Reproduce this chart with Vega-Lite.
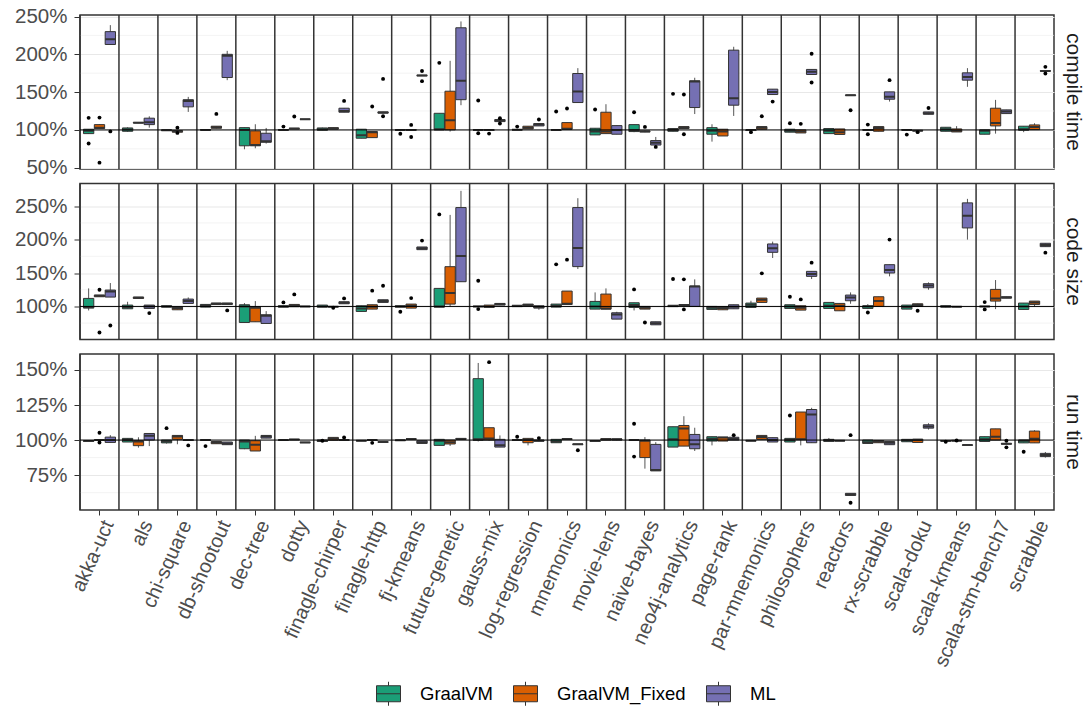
{
"$schema": "https://vega.github.io/schema/vega-lite/v6.json",
"background": "white",
"padding": {"left": 13, "top": 5, "right": 0, "bottom": 0},
"bounds": "flush",
"spacing": 14.5,
"config": {
 "font": "Liberation Sans",
 "view": {"stroke": "#333333", "strokeWidth": 1.5},
 "scale": {"bandPaddingInner": 0, "bandPaddingOuter": 0, "barBandPaddingInner": 0, "rectBandPaddingInner": 0, "bandWithNestedOffsetPaddingInner": 0, "bandWithNestedOffsetPaddingOuter": 0, "offsetBandPaddingInner": 0.05, "offsetBandPaddingOuter": 0.32},
 "axis": {"labelOverlap": false},
 "axisQuantitative": {"labelOverlap": false},
 "axisY": {"domain": false, "tickSize": 6, "tickColor": "#333333", "labelFontSize": 20.5, "labelColor": "#4d4d4d", "labelPadding": 7, "gridColor": "#e8e8e8", "gridWidth": 1.2, "labelOverlap": false},
 "legend": {"orient": "none", "legendX": 296, "legendY": 666, "direction": "horizontal", "symbolType": "M-1,-0.667H1V0.667H-1Z M-1,0H1 M0,-0.667V-1 M0,0.667V1", "symbolSize": 576, "symbolStrokeColor": "#333333", "symbolStrokeWidth": 1, "labelFontSize": 18.5, "labelColor": "#000000", "labelOffset": 19, "columnPadding": 18}
},
"datasets": {
 "bench": [{"b":"akka-uct"},{"b":"als"},{"b":"chi-square"},{"b":"db-shootout"},{"b":"dec-tree"},{"b":"dotty"},{"b":"finagle-chirper"},{"b":"finagle-http"},{"b":"fj-kmeans"},{"b":"future-genetic"},{"b":"gauss-mix"},{"b":"log-regression"},{"b":"mnemonics"},{"b":"movie-lens"},{"b":"naive-bayes"},{"b":"neo4j-analytics"},{"b":"page-rank"},{"b":"par-mnemonics"},{"b":"philosophers"},{"b":"reactors"},{"b":"rx-scrabble"},{"b":"scala-doku"},{"b":"scala-kmeans"},{"b":"scala-stm-bench7"},{"b":"scrabble"}],
 "minor": [{"m":"ct","g":0.75},{"m":"ct","g":1.25},{"m":"ct","g":1.75},{"m":"ct","g":2.25},
  {"m":"cs","g":0.75},{"m":"cs","g":1.25},{"m":"cs","g":1.75},{"m":"cs","g":2.25},{"m":"cs","g":2.75},
  {"m":"rt","g":0.625},{"m":"rt","g":0.875},{"m":"rt","g":1.125},{"m":"rt","g":1.375}],
 "box": [
{"m":"ct","b":"akka-uct","c":"GraalVM","lo":0.95,"q1":0.951,"md":0.99,"q3":1.009,"hi":1.012},
{"m":"ct","b":"akka-uct","c":"GraalVM_Fixed","lo":1.018,"q1":1.018,"md":1.03,"q3":1.07,"hi":1.075},
{"m":"ct","b":"akka-uct","c":"ML","lo":2.13,"q1":2.13,"md":2.2,"q3":2.3,"hi":2.386},
{"m":"ct","b":"als","c":"GraalVM","lo":0.975,"q1":0.982,"md":1.004,"q3":1.026,"hi":1.035},
{"m":"ct","b":"als","c":"GraalVM_Fixed","lo":1.09,"q1":1.092,"md":1.095,"q3":1.099,"hi":1.1},
{"m":"ct","b":"als","c":"ML","lo":1.03,"q1":1.07,"md":1.1,"q3":1.155,"hi":1.18},
{"m":"ct","b":"chi-square","c":"GraalVM","lo":0.99,"q1":0.993,"md":0.995,"q3":0.998,"hi":1.0},
{"m":"ct","b":"chi-square","c":"GraalVM_Fixed","lo":0.97,"q1":0.97,"md":0.982,"q3":0.99,"hi":0.99},
{"m":"ct","b":"chi-square","c":"ML","lo":1.238,"q1":1.305,"md":1.384,"q3":1.4,"hi":1.437},
{"m":"ct","b":"db-shootout","c":"GraalVM","lo":0.998,"q1":0.999,"md":1.0,"q3":1.002,"hi":1.003},
{"m":"ct","b":"db-shootout","c":"GraalVM_Fixed","lo":1.02,"q1":1.022,"md":1.035,"q3":1.049,"hi":1.05},
{"m":"ct","b":"db-shootout","c":"ML","lo":1.658,"q1":1.693,"md":1.98,"q3":2.0,"hi":2.046},
{"m":"ct","b":"dec-tree","c":"GraalVM","lo":0.744,"q1":0.79,"md":1.0,"q3":1.03,"hi":1.03},
{"m":"ct","b":"dec-tree","c":"GraalVM_Fixed","lo":0.757,"q1":0.79,"md":0.8,"q3":0.987,"hi":1.075},
{"m":"ct","b":"dec-tree","c":"ML","lo":0.819,"q1":0.837,"md":0.85,"q3":0.956,"hi":1.026},
{"m":"ct","b":"dotty","c":"GraalVM","lo":0.995,"q1":0.998,"md":1.0,"q3":1.003,"hi":1.005},
{"m":"ct","b":"dotty","c":"GraalVM_Fixed","lo":1.012,"q1":1.015,"md":1.018,"q3":1.02,"hi":1.022},
{"m":"ct","b":"dotty","c":"ML","lo":1.139,"q1":1.14,"md":1.141,"q3":1.142,"hi":1.143},
{"m":"ct","b":"finagle-chirper","c":"GraalVM","lo":0.996,"q1":0.996,"md":1.01,"q3":1.026,"hi":1.03},
{"m":"ct","b":"finagle-chirper","c":"GraalVM_Fixed","lo":1.013,"q1":1.013,"md":1.02,"q3":1.03,"hi":1.03},
{"m":"ct","b":"finagle-chirper","c":"ML","lo":1.234,"q1":1.234,"md":1.25,"q3":1.287,"hi":1.29},
{"m":"ct","b":"finagle-http","c":"GraalVM","lo":0.89,"q1":0.89,"md":0.93,"q3":1.009,"hi":1.012},
{"m":"ct","b":"finagle-http","c":"GraalVM_Fixed","lo":0.898,"q1":0.898,"md":0.97,"q3":0.978,"hi":0.98},
{"m":"ct","b":"finagle-http","c":"ML","lo":1.22,"q1":1.222,"md":1.23,"q3":1.238,"hi":1.24},
{"m":"ct","b":"fj-kmeans","c":"GraalVM","lo":0.997,"q1":0.998,"md":1.0,"q3":1.002,"hi":1.003},
{"m":"ct","b":"fj-kmeans","c":"GraalVM_Fixed","lo":0.997,"q1":0.998,"md":1.0,"q3":1.002,"hi":1.003},
{"m":"ct","b":"fj-kmeans","c":"ML","lo":1.715,"q1":1.716,"md":1.72,"q3":1.724,"hi":1.725},
{"m":"ct","b":"future-genetic","c":"GraalVM","lo":1.0,"q1":1.0,"md":1.01,"q3":1.22,"hi":1.22},
{"m":"ct","b":"future-genetic","c":"GraalVM_Fixed","lo":0.978,"q1":1.0,"md":1.128,"q3":1.512,"hi":1.914},
{"m":"ct","b":"future-genetic","c":"ML","lo":1.327,"q1":1.4,"md":1.649,"q3":2.351,"hi":2.435},
{"m":"ct","b":"gauss-mix","c":"GraalVM","lo":0.997,"q1":0.998,"md":1.0,"q3":1.002,"hi":1.003},
{"m":"ct","b":"gauss-mix","c":"GraalVM_Fixed","lo":0.995,"q1":0.996,"md":0.998,"q3":1.0,"hi":1.0},
{"m":"ct","b":"gauss-mix","c":"ML","lo":1.105,"q1":1.11,"md":1.124,"q3":1.137,"hi":1.14},
{"m":"ct","b":"log-regression","c":"GraalVM","lo":1.0,"q1":1.0,"md":1.002,"q3":1.004,"hi":1.005},
{"m":"ct","b":"log-regression","c":"GraalVM_Fixed","lo":1.013,"q1":1.013,"md":1.03,"q3":1.049,"hi":1.05},
{"m":"ct","b":"log-regression","c":"ML","lo":1.053,"q1":1.053,"md":1.07,"q3":1.084,"hi":1.084},
{"m":"ct","b":"mnemonics","c":"GraalVM","lo":0.997,"q1":0.998,"md":0.998,"q3":1.0,"hi":1.0},
{"m":"ct","b":"mnemonics","c":"GraalVM_Fixed","lo":1.009,"q1":1.009,"md":1.015,"q3":1.097,"hi":1.097},
{"m":"ct","b":"mnemonics","c":"ML","lo":1.362,"q1":1.362,"md":1.508,"q3":1.746,"hi":1.817},
{"m":"ct","b":"movie-lens","c":"GraalVM","lo":0.934,"q1":0.934,"md":0.98,"q3":1.022,"hi":1.025},
{"m":"ct","b":"movie-lens","c":"GraalVM_Fixed","lo":0.951,"q1":0.951,"md":0.978,"q3":1.234,"hi":1.34},
{"m":"ct","b":"movie-lens","c":"ML","lo":0.943,"q1":0.943,"md":1.0,"q3":1.057,"hi":1.06},
{"m":"ct","b":"naive-bayes","c":"GraalVM","lo":0.97,"q1":0.978,"md":1.0,"q3":1.07,"hi":1.07},
{"m":"ct","b":"naive-bayes","c":"GraalVM_Fixed","lo":0.97,"q1":0.975,"md":0.98,"q3":0.985,"hi":0.99},
{"m":"ct","b":"naive-bayes","c":"ML","lo":0.8,"q1":0.8,"md":0.83,"q3":0.859,"hi":0.907},
{"m":"ct","b":"neo4j-analytics","c":"GraalVM","lo":0.98,"q1":0.982,"md":0.998,"q3":1.018,"hi":1.02},
{"m":"ct","b":"neo4j-analytics","c":"GraalVM_Fixed","lo":1.018,"q1":1.018,"md":1.03,"q3":1.044,"hi":1.044},
{"m":"ct","b":"neo4j-analytics","c":"ML","lo":1.21,"q1":1.296,"md":1.64,"q3":1.649,"hi":1.69},
{"m":"ct","b":"page-rank","c":"GraalVM","lo":0.845,"q1":0.943,"md":0.99,"q3":1.03,"hi":1.075},
{"m":"ct","b":"page-rank","c":"GraalVM_Fixed","lo":0.92,"q1":0.92,"md":0.98,"q3":1.009,"hi":1.01},
{"m":"ct","b":"page-rank","c":"ML","lo":1.185,"q1":1.327,"md":1.42,"q3":2.055,"hi":2.1},
{"m":"ct","b":"par-mnemonics","c":"GraalVM","lo":0.99,"q1":0.992,"md":0.998,"q3":1.0,"hi":1.002},
{"m":"ct","b":"par-mnemonics","c":"GraalVM_Fixed","lo":1.009,"q1":1.009,"md":1.03,"q3":1.044,"hi":1.044},
{"m":"ct","b":"par-mnemonics","c":"ML","lo":1.468,"q1":1.468,"md":1.5,"q3":1.539,"hi":1.54},
{"m":"ct","b":"philosophers","c":"GraalVM","lo":0.97,"q1":0.97,"md":0.99,"q3":1.009,"hi":1.01},
{"m":"ct","b":"philosophers","c":"GraalVM_Fixed","lo":0.96,"q1":0.96,"md":0.98,"q3":1.0,"hi":1.0},
{"m":"ct","b":"philosophers","c":"ML","lo":1.733,"q1":1.733,"md":1.77,"q3":1.8,"hi":1.8},
{"m":"ct","b":"reactors","c":"GraalVM","lo":0.951,"q1":0.951,"md":0.99,"q3":1.018,"hi":1.02},
{"m":"ct","b":"reactors","c":"GraalVM_Fixed","lo":0.94,"q1":0.94,"md":0.97,"q3":1.013,"hi":1.013},
{"m":"ct","b":"reactors","c":"ML","lo":1.455,"q1":1.456,"md":1.459,"q3":1.462,"hi":1.463},
{"m":"ct","b":"rx-scrabble","c":"GraalVM","lo":0.997,"q1":0.998,"md":1.0,"q3":1.002,"hi":1.003},
{"m":"ct","b":"rx-scrabble","c":"GraalVM_Fixed","lo":0.982,"q1":0.982,"md":1.025,"q3":1.044,"hi":1.044},
{"m":"ct","b":"rx-scrabble","c":"ML","lo":1.375,"q1":1.406,"md":1.44,"q3":1.503,"hi":1.503},
{"m":"ct","b":"scala-doku","c":"GraalVM","lo":0.997,"q1":0.998,"md":1.0,"q3":1.002,"hi":1.003},
{"m":"ct","b":"scala-doku","c":"GraalVM_Fixed","lo":0.988,"q1":0.988,"md":0.99,"q3":0.993,"hi":0.993},
{"m":"ct","b":"scala-doku","c":"ML","lo":1.207,"q1":1.207,"md":1.22,"q3":1.238,"hi":1.238},
{"m":"ct","b":"scala-kmeans","c":"GraalVM","lo":0.982,"q1":0.982,"md":1.01,"q3":1.035,"hi":1.035},
{"m":"ct","b":"scala-kmeans","c":"GraalVM_Fixed","lo":0.973,"q1":0.973,"md":0.99,"q3":1.013,"hi":1.05},
{"m":"ct","b":"scala-kmeans","c":"ML","lo":1.57,"q1":1.658,"md":1.7,"q3":1.755,"hi":1.817},
{"m":"ct","b":"scala-stm-bench7","c":"GraalVM","lo":0.943,"q1":0.943,"md":0.99,"q3":1.0,"hi":1.0},
{"m":"ct","b":"scala-stm-bench7","c":"GraalVM_Fixed","lo":0.951,"q1":1.053,"md":1.093,"q3":1.287,"hi":1.397},
{"m":"ct","b":"scala-stm-bench7","c":"ML","lo":1.216,"q1":1.216,"md":1.243,"q3":1.265,"hi":1.265},
{"m":"ct","b":"scrabble","c":"GraalVM","lo":0.97,"q1":0.996,"md":1.01,"q3":1.049,"hi":1.049},
{"m":"ct","b":"scrabble","c":"GraalVM_Fixed","lo":1.004,"q1":1.004,"md":1.04,"q3":1.066,"hi":1.088},
{"m":"ct","b":"scrabble","c":"ML","lo":1.775,"q1":1.777,"md":1.78,"q3":1.783,"hi":1.785},
{"m":"cs","b":"akka-uct","c":"GraalVM","lo":0.94,"q1":0.975,"md":0.99,"q3":1.12,"hi":1.27},
{"m":"cs","b":"akka-uct","c":"GraalVM_Fixed","lo":1.145,"q1":1.145,"md":1.16,"q3":1.17,"hi":1.17},
{"m":"cs","b":"akka-uct","c":"ML","lo":1.14,"q1":1.14,"md":1.225,"q3":1.245,"hi":1.35},
{"m":"cs","b":"als","c":"GraalVM","lo":0.965,"q1":0.965,"md":0.99,"q3":1.02,"hi":1.07},
{"m":"cs","b":"als","c":"GraalVM_Fixed","lo":1.12,"q1":1.12,"md":1.13,"q3":1.14,"hi":1.14},
{"m":"cs","b":"als","c":"ML","lo":0.97,"q1":0.97,"md":1.0,"q3":1.02,"hi":1.02},
{"m":"cs","b":"chi-square","c":"GraalVM","lo":0.99,"q1":0.99,"md":1.0,"q3":1.01,"hi":1.01},
{"m":"cs","b":"chi-square","c":"GraalVM_Fixed","lo":0.95,"q1":0.95,"md":0.975,"q3":0.99,"hi":0.99},
{"m":"cs","b":"chi-square","c":"ML","lo":1.045,"q1":1.045,"md":1.08,"q3":1.11,"hi":1.135},
{"m":"cs","b":"db-shootout","c":"GraalVM","lo":0.99,"q1":0.99,"md":1.01,"q3":1.03,"hi":1.03},
{"m":"cs","b":"db-shootout","c":"GraalVM_Fixed","lo":1.03,"q1":1.03,"md":1.04,"q3":1.05,"hi":1.05},
{"m":"cs","b":"db-shootout","c":"ML","lo":1.03,"q1":1.03,"md":1.04,"q3":1.05,"hi":1.05},
{"m":"cs","b":"dec-tree","c":"GraalVM","lo":0.76,"q1":0.76,"md":1.0,"q3":1.025,"hi":1.05},
{"m":"cs","b":"dec-tree","c":"GraalVM_Fixed","lo":0.77,"q1":0.77,"md":0.98,"q3":0.995,"hi":1.08},
{"m":"cs","b":"dec-tree","c":"ML","lo":0.745,"q1":0.745,"md":0.86,"q3":0.875,"hi":0.93},
{"m":"cs","b":"dotty","c":"GraalVM","lo":0.99,"q1":0.99,"md":1.0,"q3":1.01,"hi":1.01},
{"m":"cs","b":"dotty","c":"GraalVM_Fixed","lo":0.995,"q1":0.995,"md":1.01,"q3":1.03,"hi":1.03},
{"m":"cs","b":"dotty","c":"ML","lo":0.995,"q1":0.997,"md":1.0,"q3":1.002,"hi":1.003},
{"m":"cs","b":"finagle-chirper","c":"GraalVM","lo":0.99,"q1":0.99,"md":1.0,"q3":1.02,"hi":1.02},
{"m":"cs","b":"finagle-chirper","c":"GraalVM_Fixed","lo":0.99,"q1":0.993,"md":0.995,"q3":0.997,"hi":0.997},
{"m":"cs","b":"finagle-chirper","c":"ML","lo":1.04,"q1":1.04,"md":1.055,"q3":1.07,"hi":1.07},
{"m":"cs","b":"finagle-http","c":"GraalVM","lo":0.925,"q1":0.925,"md":0.97,"q3":1.01,"hi":1.01},
{"m":"cs","b":"finagle-http","c":"GraalVM_Fixed","lo":0.96,"q1":0.96,"md":0.995,"q3":1.025,"hi":1.025},
{"m":"cs","b":"finagle-http","c":"ML","lo":1.06,"q1":1.06,"md":1.08,"q3":1.1,"hi":1.1},
{"m":"cs","b":"fj-kmeans","c":"GraalVM","lo":0.99,"q1":0.99,"md":1.0,"q3":1.01,"hi":1.01},
{"m":"cs","b":"fj-kmeans","c":"GraalVM_Fixed","lo":0.975,"q1":0.975,"md":1.01,"q3":1.035,"hi":1.035},
{"m":"cs","b":"fj-kmeans","c":"ML","lo":1.85,"q1":1.85,"md":1.87,"q3":1.89,"hi":1.89},
{"m":"cs","b":"future-genetic","c":"GraalVM","lo":0.99,"q1":0.99,"md":1.0,"q3":1.27,"hi":1.27},
{"m":"cs","b":"future-genetic","c":"GraalVM_Fixed","lo":0.995,"q1":1.035,"md":1.2,"q3":1.595,"hi":2.37},
{"m":"cs","b":"future-genetic","c":"ML","lo":1.37,"q1":1.37,"md":1.755,"q3":2.48,"hi":2.73},
{"m":"cs","b":"gauss-mix","c":"GraalVM","lo":0.995,"q1":0.997,"md":1.0,"q3":1.003,"hi":1.005},
{"m":"cs","b":"gauss-mix","c":"GraalVM_Fixed","lo":0.985,"q1":0.985,"md":1.0,"q3":1.02,"hi":1.02},
{"m":"cs","b":"gauss-mix","c":"ML","lo":1.02,"q1":1.02,"md":1.035,"q3":1.045,"hi":1.045},
{"m":"cs","b":"log-regression","c":"GraalVM","lo":0.995,"q1":0.997,"md":1.01,"q3":1.012,"hi":1.015},
{"m":"cs","b":"log-regression","c":"GraalVM_Fixed","lo":1.01,"q1":1.01,"md":1.02,"q3":1.035,"hi":1.035},
{"m":"cs","b":"log-regression","c":"ML","lo":0.95,"q1":0.975,"md":0.99,"q3":1.01,"hi":1.01},
{"m":"cs","b":"mnemonics","c":"GraalVM","lo":0.99,"q1":0.99,"md":1.01,"q3":1.035,"hi":1.035},
{"m":"cs","b":"mnemonics","c":"GraalVM_Fixed","lo":1.03,"q1":1.03,"md":1.04,"q3":1.23,"hi":1.23},
{"m":"cs","b":"mnemonics","c":"ML","lo":1.56,"q1":1.596,"md":1.876,"q3":2.48,"hi":2.62},
{"m":"cs","b":"movie-lens","c":"GraalVM","lo":0.96,"q1":0.96,"md":1.0,"q3":1.075,"hi":1.21},
{"m":"cs","b":"movie-lens","c":"GraalVM_Fixed","lo":0.96,"q1":0.96,"md":0.97,"q3":1.185,"hi":1.27},
{"m":"cs","b":"movie-lens","c":"ML","lo":0.81,"q1":0.81,"md":0.88,"q3":0.905,"hi":0.92},
{"m":"cs","b":"naive-bayes","c":"GraalVM","lo":0.94,"q1":0.985,"md":1.02,"q3":1.055,"hi":1.055},
{"m":"cs","b":"naive-bayes","c":"GraalVM_Fixed","lo":0.96,"q1":0.96,"md":0.98,"q3":1.0,"hi":1.0},
{"m":"cs","b":"naive-bayes","c":"ML","lo":0.725,"q1":0.725,"md":0.75,"q3":0.77,"hi":0.77},
{"m":"cs","b":"neo4j-analytics","c":"GraalVM","lo":0.995,"q1":0.997,"md":1.01,"q3":1.012,"hi":1.015},
{"m":"cs","b":"neo4j-analytics","c":"GraalVM_Fixed","lo":1.015,"q1":1.017,"md":1.02,"q3":1.022,"hi":1.025},
{"m":"cs","b":"neo4j-analytics","c":"ML","lo":1.0,"q1":1.0,"md":1.3,"q3":1.305,"hi":1.405},
{"m":"cs","b":"page-rank","c":"GraalVM","lo":0.955,"q1":0.955,"md":0.98,"q3":1.0,"hi":1.0},
{"m":"cs","b":"page-rank","c":"GraalVM_Fixed","lo":0.95,"q1":0.95,"md":0.975,"q3":0.995,"hi":0.995},
{"m":"cs","b":"page-rank","c":"ML","lo":0.965,"q1":0.965,"md":0.995,"q3":1.025,"hi":1.025},
{"m":"cs","b":"par-mnemonics","c":"GraalVM","lo":0.985,"q1":0.985,"md":1.025,"q3":1.05,"hi":1.085},
{"m":"cs","b":"par-mnemonics","c":"GraalVM_Fixed","lo":1.06,"q1":1.06,"md":1.1,"q3":1.125,"hi":1.125},
{"m":"cs","b":"par-mnemonics","c":"ML","lo":1.725,"q1":1.81,"md":1.87,"q3":1.935,"hi":1.97},
{"m":"cs","b":"philosophers","c":"GraalVM","lo":0.97,"q1":0.97,"md":1.0,"q3":1.025,"hi":1.025},
{"m":"cs","b":"philosophers","c":"GraalVM_Fixed","lo":0.945,"q1":0.945,"md":0.98,"q3":1.01,"hi":1.01},
{"m":"cs","b":"philosophers","c":"ML","lo":1.41,"q1":1.45,"md":1.485,"q3":1.525,"hi":1.525},
{"m":"cs","b":"reactors","c":"GraalVM","lo":0.97,"q1":0.97,"md":1.01,"q3":1.06,"hi":1.06},
{"m":"cs","b":"reactors","c":"GraalVM_Fixed","lo":0.935,"q1":0.935,"md":1.01,"q3":1.045,"hi":1.045},
{"m":"cs","b":"reactors","c":"ML","lo":1.04,"q1":1.085,"md":1.135,"q3":1.17,"hi":1.21},
{"m":"cs","b":"rx-scrabble","c":"GraalVM","lo":0.96,"q1":0.97,"md":1.0,"q3":1.01,"hi":1.035},
{"m":"cs","b":"rx-scrabble","c":"GraalVM_Fixed","lo":1.0,"q1":1.0,"md":1.08,"q3":1.145,"hi":1.145},
{"m":"cs","b":"rx-scrabble","c":"ML","lo":1.45,"q1":1.5,"md":1.545,"q3":1.625,"hi":1.625},
{"m":"cs","b":"scala-doku","c":"GraalVM","lo":0.96,"q1":0.96,"md":0.99,"q3":1.02,"hi":1.02},
{"m":"cs","b":"scala-doku","c":"GraalVM_Fixed","lo":1.0,"q1":1.0,"md":1.02,"q3":1.04,"hi":1.04},
{"m":"cs","b":"scala-doku","c":"ML","lo":1.25,"q1":1.28,"md":1.315,"q3":1.34,"hi":1.36},
{"m":"cs","b":"scala-kmeans","c":"GraalVM","lo":0.985,"q1":0.99,"md":1.0,"q3":1.01,"hi":1.01},
{"m":"cs","b":"scala-kmeans","c":"GraalVM_Fixed","lo":0.99,"q1":0.993,"md":0.995,"q3":0.997,"hi":0.997},
{"m":"cs","b":"scala-kmeans","c":"ML","lo":2.0,"q1":2.175,"md":2.356,"q3":2.55,"hi":2.61},
{"m":"cs","b":"scala-stm-bench7","c":"GraalVM","lo":0.995,"q1":0.997,"md":1.0,"q3":1.003,"hi":1.005},
{"m":"cs","b":"scala-stm-bench7","c":"GraalVM_Fixed","lo":0.96,"q1":1.08,"md":1.12,"q3":1.255,"hi":1.395},
{"m":"cs","b":"scala-stm-bench7","c":"ML","lo":1.125,"q1":1.125,"md":1.135,"q3":1.145,"hi":1.145},
{"m":"cs","b":"scrabble","c":"GraalVM","lo":0.955,"q1":0.955,"md":1.0,"q3":1.05,"hi":1.05},
{"m":"cs","b":"scrabble","c":"GraalVM_Fixed","lo":1.0,"q1":1.03,"md":1.06,"q3":1.08,"hi":1.08},
{"m":"cs","b":"scrabble","c":"ML","lo":1.895,"q1":1.895,"md":1.92,"q3":1.945,"hi":1.945},
{"m":"rt","b":"akka-uct","c":"GraalVM","lo":0.99,"q1":0.99,"md":0.993,"q3":0.995,"hi":0.995},
{"m":"rt","b":"akka-uct","c":"GraalVM_Fixed","lo":0.998,"q1":0.999,"md":1.0,"q3":1.001,"hi":1.002},
{"m":"rt","b":"akka-uct","c":"ML","lo":0.983,"q1":0.983,"md":1.0,"q3":1.021,"hi":1.035},
{"m":"rt","b":"als","c":"GraalVM","lo":0.986,"q1":0.986,"md":1.0,"q3":1.012,"hi":1.012},
{"m":"rt","b":"als","c":"GraalVM_Fixed","lo":0.946,"q1":0.96,"md":0.99,"q3":0.995,"hi":1.02},
{"m":"rt","b":"als","c":"ML","lo":0.957,"q1":1.0,"md":1.03,"q3":1.047,"hi":1.047},
{"m":"rt","b":"chi-square","c":"GraalVM","lo":0.975,"q1":0.98,"md":0.99,"q3":1.0,"hi":1.0},
{"m":"rt","b":"chi-square","c":"GraalVM_Fixed","lo":0.97,"q1":1.005,"md":1.025,"q3":1.033,"hi":1.033},
{"m":"rt","b":"chi-square","c":"ML","lo":0.997,"q1":0.998,"md":1.0,"q3":1.002,"hi":1.003},
{"m":"rt","b":"db-shootout","c":"GraalVM","lo":0.998,"q1":0.999,"md":1.0,"q3":1.001,"hi":1.002},
{"m":"rt","b":"db-shootout","c":"GraalVM_Fixed","lo":0.974,"q1":0.974,"md":0.982,"q3":0.99,"hi":0.99},
{"m":"rt","b":"db-shootout","c":"ML","lo":0.967,"q1":0.967,"md":0.975,"q3":0.986,"hi":0.986},
{"m":"rt","b":"dec-tree","c":"GraalVM","lo":0.935,"q1":0.938,"md":0.99,"q3":1.0,"hi":1.0},
{"m":"rt","b":"dec-tree","c":"GraalVM_Fixed","lo":0.922,"q1":0.922,"md":0.967,"q3":0.995,"hi":1.03},
{"m":"rt","b":"dec-tree","c":"ML","lo":1.014,"q1":1.014,"md":1.025,"q3":1.033,"hi":1.033},
{"m":"rt","b":"dotty","c":"GraalVM","lo":0.998,"q1":0.999,"md":1.0,"q3":1.0,"hi":1.001},
{"m":"rt","b":"dotty","c":"GraalVM_Fixed","lo":1.002,"q1":1.003,"md":1.004,"q3":1.005,"hi":1.005},
{"m":"rt","b":"dotty","c":"ML","lo":0.982,"q1":0.982,"md":0.983,"q3":0.985,"hi":0.985},
{"m":"rt","b":"finagle-chirper","c":"GraalVM","lo":0.99,"q1":0.99,"md":0.995,"q3":1.0,"hi":1.0},
{"m":"rt","b":"finagle-chirper","c":"GraalVM_Fixed","lo":0.998,"q1":0.998,"md":1.01,"q3":1.019,"hi":1.019},
{"m":"rt","b":"finagle-chirper","c":"ML","lo":0.998,"q1":0.999,"md":1.0,"q3":1.001,"hi":1.001},
{"m":"rt","b":"finagle-http","c":"GraalVM","lo":0.993,"q1":0.994,"md":0.995,"q3":0.996,"hi":0.996},
{"m":"rt","b":"finagle-http","c":"GraalVM_Fixed","lo":0.998,"q1":0.998,"md":1.0,"q3":1.0,"hi":1.0},
{"m":"rt","b":"finagle-http","c":"ML","lo":0.984,"q1":0.985,"md":0.986,"q3":0.987,"hi":0.987},
{"m":"rt","b":"fj-kmeans","c":"GraalVM","lo":0.996,"q1":0.997,"md":0.998,"q3":0.999,"hi":0.999},
{"m":"rt","b":"fj-kmeans","c":"GraalVM_Fixed","lo":1.005,"q1":1.006,"md":1.007,"q3":1.008,"hi":1.008},
{"m":"rt","b":"fj-kmeans","c":"ML","lo":0.976,"q1":0.976,"md":0.985,"q3":0.995,"hi":0.995},
{"m":"rt","b":"future-genetic","c":"GraalVM","lo":0.962,"q1":0.962,"md":0.995,"q3":1.005,"hi":1.005},
{"m":"rt","b":"future-genetic","c":"GraalVM_Fixed","lo":0.958,"q1":0.972,"md":0.985,"q3":1.0,"hi":1.0},
{"m":"rt","b":"future-genetic","c":"ML","lo":1.005,"q1":1.005,"md":1.008,"q3":1.012,"hi":1.012},
{"m":"rt","b":"gauss-mix","c":"GraalVM","lo":0.99,"q1":0.998,"md":1.005,"q3":1.438,"hi":1.55},
{"m":"rt","b":"gauss-mix","c":"GraalVM_Fixed","lo":0.995,"q1":1.0,"md":1.012,"q3":1.088,"hi":1.088},
{"m":"rt","b":"gauss-mix","c":"ML","lo":0.95,"q1":0.95,"md":0.963,"q3":1.005,"hi":1.033},
{"m":"rt","b":"log-regression","c":"GraalVM","lo":0.998,"q1":0.999,"md":1.0,"q3":1.001,"hi":1.002},
{"m":"rt","b":"log-regression","c":"GraalVM_Fixed","lo":0.962,"q1":0.981,"md":1.0,"q3":1.012,"hi":1.012},
{"m":"rt","b":"log-regression","c":"ML","lo":0.99,"q1":0.992,"md":0.995,"q3":1.0,"hi":1.0},
{"m":"rt","b":"mnemonics","c":"GraalVM","lo":0.981,"q1":0.981,"md":0.99,"q3":1.005,"hi":1.005},
{"m":"rt","b":"mnemonics","c":"GraalVM_Fixed","lo":1.005,"q1":1.006,"md":1.007,"q3":1.008,"hi":1.008},
{"m":"rt","b":"mnemonics","c":"ML","lo":0.968,"q1":0.968,"md":0.97,"q3":0.972,"hi":0.972},
{"m":"rt","b":"movie-lens","c":"GraalVM","lo":0.988,"q1":0.99,"md":0.993,"q3":0.995,"hi":0.995},
{"m":"rt","b":"movie-lens","c":"GraalVM_Fixed","lo":1.0,"q1":1.0,"md":1.005,"q3":1.01,"hi":1.01},
{"m":"rt","b":"movie-lens","c":"ML","lo":0.998,"q1":1.0,"md":1.005,"q3":1.008,"hi":1.008},
{"m":"rt","b":"naive-bayes","c":"GraalVM","lo":0.998,"q1":0.999,"md":1.0,"q3":1.001,"hi":1.002},
{"m":"rt","b":"naive-bayes","c":"GraalVM_Fixed","lo":0.796,"q1":0.875,"md":0.995,"q3":1.0,"hi":1.021},
{"m":"rt","b":"naive-bayes","c":"ML","lo":0.78,"q1":0.78,"md":0.787,"q3":0.969,"hi":0.985},
{"m":"rt","b":"neo4j-analytics","c":"GraalVM","lo":0.95,"q1":0.95,"md":1.005,"q3":1.095,"hi":1.095},
{"m":"rt","b":"neo4j-analytics","c":"GraalVM_Fixed","lo":0.957,"q1":0.957,"md":1.083,"q3":1.104,"hi":1.17},
{"m":"rt","b":"neo4j-analytics","c":"ML","lo":0.922,"q1":0.938,"md":0.97,"q3":1.04,"hi":1.088},
{"m":"rt","b":"page-rank","c":"GraalVM","lo":0.962,"q1":0.993,"md":1.01,"q3":1.024,"hi":1.024},
{"m":"rt","b":"page-rank","c":"GraalVM_Fixed","lo":0.993,"q1":0.993,"md":1.018,"q3":1.02,"hi":1.02},
{"m":"rt","b":"page-rank","c":"ML","lo":1.0,"q1":1.0,"md":1.01,"q3":1.02,"hi":1.02},
{"m":"rt","b":"par-mnemonics","c":"GraalVM","lo":0.993,"q1":0.994,"md":0.995,"q3":0.996,"hi":0.996},
{"m":"rt","b":"par-mnemonics","c":"GraalVM_Fixed","lo":1.005,"q1":1.005,"md":1.022,"q3":1.033,"hi":1.033},
{"m":"rt","b":"par-mnemonics","c":"ML","lo":0.986,"q1":0.986,"md":1.0,"q3":1.017,"hi":1.017},
{"m":"rt","b":"philosophers","c":"GraalVM","lo":0.986,"q1":0.986,"md":1.0,"q3":1.012,"hi":1.012},
{"m":"rt","b":"philosophers","c":"GraalVM_Fixed","lo":0.962,"q1":1.005,"md":1.005,"q3":1.2,"hi":1.2},
{"m":"rt","b":"philosophers","c":"ML","lo":0.981,"q1":0.981,"md":1.182,"q3":1.218,"hi":1.23},
{"m":"rt","b":"reactors","c":"GraalVM","lo":0.99,"q1":0.99,"md":1.0,"q3":1.005,"hi":1.015},
{"m":"rt","b":"reactors","c":"GraalVM_Fixed","lo":0.993,"q1":0.994,"md":0.995,"q3":0.996,"hi":0.996},
{"m":"rt","b":"reactors","c":"ML","lo":0.605,"q1":0.605,"md":0.612,"q3":0.62,"hi":0.62},
{"m":"rt","b":"rx-scrabble","c":"GraalVM","lo":0.976,"q1":0.976,"md":0.985,"q3":1.0,"hi":1.0},
{"m":"rt","b":"rx-scrabble","c":"GraalVM_Fixed","lo":0.981,"q1":0.981,"md":0.99,"q3":0.995,"hi":0.995},
{"m":"rt","b":"rx-scrabble","c":"ML","lo":0.967,"q1":0.967,"md":0.98,"q3":0.99,"hi":0.99},
{"m":"rt","b":"scala-doku","c":"GraalVM","lo":0.988,"q1":0.988,"md":0.998,"q3":1.005,"hi":1.005},
{"m":"rt","b":"scala-doku","c":"GraalVM_Fixed","lo":0.983,"q1":0.983,"md":1.0,"q3":1.007,"hi":1.007},
{"m":"rt","b":"scala-doku","c":"ML","lo":1.075,"q1":1.085,"md":1.097,"q3":1.109,"hi":1.12},
{"m":"rt","b":"scala-kmeans","c":"GraalVM","lo":0.992,"q1":0.993,"md":0.994,"q3":0.995,"hi":0.995},
{"m":"rt","b":"scala-kmeans","c":"GraalVM_Fixed","lo":0.993,"q1":0.994,"md":0.995,"q3":0.996,"hi":0.996},
{"m":"rt","b":"scala-kmeans","c":"ML","lo":0.963,"q1":0.963,"md":0.964,"q3":0.965,"hi":0.965},
{"m":"rt","b":"scala-stm-bench7","c":"GraalVM","lo":0.99,"q1":0.99,"md":1.005,"q3":1.024,"hi":1.024},
{"m":"rt","b":"scala-stm-bench7","c":"GraalVM_Fixed","lo":1.0,"q1":1.0,"md":1.024,"q3":1.08,"hi":1.08},
{"m":"rt","b":"scala-stm-bench7","c":"ML","lo":0.97,"q1":0.971,"md":0.973,"q3":0.975,"hi":0.976},
{"m":"rt","b":"scrabble","c":"GraalVM","lo":0.98,"q1":0.98,"md":0.995,"q3":1.0,"hi":1.0},
{"m":"rt","b":"scrabble","c":"GraalVM_Fixed","lo":0.98,"q1":0.98,"md":1.009,"q3":1.064,"hi":1.07},
{"m":"rt","b":"scrabble","c":"ML","lo":0.875,"q1":0.882,"md":0.893,"q3":0.905,"hi":0.915}
 ],
 "out": [
{"m":"ct","b":"akka-uct","c":"GraalVM","v":1.16},{"m":"ct","b":"akka-uct","c":"GraalVM","v":0.82},
{"m":"ct","b":"akka-uct","c":"GraalVM_Fixed","v":1.163},{"m":"ct","b":"akka-uct","c":"GraalVM_Fixed","v":0.567},
{"m":"ct","b":"akka-uct","c":"ML","v":0.98},
{"m":"ct","b":"chi-square","c":"GraalVM_Fixed","v":1.03},{"m":"ct","b":"chi-square","c":"GraalVM_Fixed","v":0.96},
{"m":"ct","b":"db-shootout","c":"GraalVM_Fixed","v":1.212},
{"m":"ct","b":"dotty","c":"GraalVM","v":1.044},{"m":"ct","b":"dotty","c":"GraalVM_Fixed","v":1.177},
{"m":"ct","b":"finagle-chirper","c":"ML","v":1.384},
{"m":"ct","b":"finagle-http","c":"GraalVM_Fixed","v":1.31},{"m":"ct","b":"finagle-http","c":"ML","v":1.675},{"m":"ct","b":"finagle-http","c":"ML","v":1.18},
{"m":"ct","b":"fj-kmeans","c":"GraalVM","v":0.95},{"m":"ct","b":"fj-kmeans","c":"GraalVM_Fixed","v":1.066},{"m":"ct","b":"fj-kmeans","c":"GraalVM_Fixed","v":0.907},{"m":"ct","b":"fj-kmeans","c":"ML","v":1.78},{"m":"ct","b":"fj-kmeans","c":"ML","v":1.645},
{"m":"ct","b":"future-genetic","c":"GraalVM","v":1.887},
{"m":"ct","b":"gauss-mix","c":"GraalVM","v":1.389},{"m":"ct","b":"gauss-mix","c":"GraalVM","v":0.956},{"m":"ct","b":"gauss-mix","c":"GraalVM_Fixed","v":0.951},{"m":"ct","b":"gauss-mix","c":"ML","v":1.155},{"m":"ct","b":"gauss-mix","c":"ML","v":1.085},
{"m":"ct","b":"log-regression","c":"GraalVM","v":1.044},{"m":"ct","b":"log-regression","c":"ML","v":1.137},
{"m":"ct","b":"mnemonics","c":"GraalVM","v":1.243},{"m":"ct","b":"mnemonics","c":"GraalVM_Fixed","v":1.283},
{"m":"ct","b":"movie-lens","c":"GraalVM","v":1.27},
{"m":"ct","b":"naive-bayes","c":"GraalVM","v":1.234},{"m":"ct","b":"naive-bayes","c":"GraalVM_Fixed","v":1.04},{"m":"ct","b":"naive-bayes","c":"ML","v":0.775},
{"m":"ct","b":"neo4j-analytics","c":"GraalVM","v":1.477},{"m":"ct","b":"neo4j-analytics","c":"GraalVM_Fixed","v":1.468},{"m":"ct","b":"neo4j-analytics","c":"GraalVM_Fixed","v":0.943},
{"m":"ct","b":"par-mnemonics","c":"GraalVM","v":0.97},{"m":"ct","b":"par-mnemonics","c":"GraalVM_Fixed","v":1.18},{"m":"ct","b":"par-mnemonics","c":"ML","v":1.375},
{"m":"ct","b":"philosophers","c":"GraalVM","v":1.088},{"m":"ct","b":"philosophers","c":"GraalVM_Fixed","v":1.08},{"m":"ct","b":"philosophers","c":"ML","v":2.007},{"m":"ct","b":"philosophers","c":"ML","v":1.627},
{"m":"ct","b":"reactors","c":"ML","v":1.26},
{"m":"ct","b":"rx-scrabble","c":"GraalVM","v":1.07},{"m":"ct","b":"rx-scrabble","c":"GraalVM","v":0.943},{"m":"ct","b":"rx-scrabble","c":"ML","v":1.658},
{"m":"ct","b":"scala-doku","c":"GraalVM","v":0.938},{"m":"ct","b":"scala-doku","c":"GraalVM_Fixed","v":0.97},{"m":"ct","b":"scala-doku","c":"ML","v":1.29},
{"m":"ct","b":"scrabble","c":"ML","v":1.834},{"m":"ct","b":"scrabble","c":"ML","v":1.746},
{"m":"cs","b":"akka-uct","c":"GraalVM_Fixed","v":1.25},{"m":"cs","b":"akka-uct","c":"GraalVM_Fixed","v":0.61},{"m":"cs","b":"akka-uct","c":"ML","v":0.715},
{"m":"cs","b":"als","c":"ML","v":0.9},
{"m":"cs","b":"db-shootout","c":"ML","v":0.94},
{"m":"cs","b":"dotty","c":"GraalVM","v":1.06},{"m":"cs","b":"dotty","c":"GraalVM_Fixed","v":1.18},
{"m":"cs","b":"finagle-chirper","c":"GraalVM_Fixed","v":0.98},{"m":"cs","b":"finagle-chirper","c":"ML","v":1.12},
{"m":"cs","b":"finagle-http","c":"GraalVM_Fixed","v":1.236},{"m":"cs","b":"finagle-http","c":"ML","v":1.31},
{"m":"cs","b":"fj-kmeans","c":"GraalVM","v":0.92},{"m":"cs","b":"fj-kmeans","c":"GraalVM_Fixed","v":1.125},{"m":"cs","b":"fj-kmeans","c":"ML","v":1.985},
{"m":"cs","b":"future-genetic","c":"GraalVM","v":2.377},
{"m":"cs","b":"gauss-mix","c":"GraalVM","v":1.385},{"m":"cs","b":"gauss-mix","c":"GraalVM","v":0.96},
{"m":"cs","b":"mnemonics","c":"GraalVM","v":1.63},{"m":"cs","b":"mnemonics","c":"GraalVM_Fixed","v":1.7},
{"m":"cs","b":"naive-bayes","c":"GraalVM","v":1.255},{"m":"cs","b":"naive-bayes","c":"GraalVM_Fixed","v":0.76},
{"m":"cs","b":"neo4j-analytics","c":"GraalVM","v":1.41},{"m":"cs","b":"neo4j-analytics","c":"GraalVM_Fixed","v":1.405},{"m":"cs","b":"neo4j-analytics","c":"GraalVM_Fixed","v":0.955},
{"m":"cs","b":"par-mnemonics","c":"GraalVM_Fixed","v":1.495},
{"m":"cs","b":"philosophers","c":"GraalVM","v":1.145},{"m":"cs","b":"philosophers","c":"GraalVM_Fixed","v":1.105},{"m":"cs","b":"philosophers","c":"ML","v":1.655},
{"m":"cs","b":"rx-scrabble","c":"GraalVM","v":0.91},{"m":"cs","b":"rx-scrabble","c":"ML","v":2.0},
{"m":"cs","b":"scala-doku","c":"GraalVM_Fixed","v":0.935},
{"m":"cs","b":"scala-stm-bench7","c":"GraalVM","v":1.065},{"m":"cs","b":"scala-stm-bench7","c":"GraalVM","v":0.955},
{"m":"cs","b":"scrabble","c":"ML","v":1.805},
{"m":"rt","b":"akka-uct","c":"GraalVM_Fixed","v":1.052},{"m":"rt","b":"akka-uct","c":"GraalVM_Fixed","v":0.983},
{"m":"rt","b":"chi-square","c":"GraalVM","v":1.085},{"m":"rt","b":"chi-square","c":"ML","v":0.962},
{"m":"rt","b":"db-shootout","c":"GraalVM","v":0.957},
{"m":"rt","b":"finagle-chirper","c":"GraalVM","v":0.995},{"m":"rt","b":"finagle-chirper","c":"ML","v":1.019},
{"m":"rt","b":"finagle-http","c":"GraalVM_Fixed","v":0.98},
{"m":"rt","b":"gauss-mix","c":"GraalVM_Fixed","v":1.556},
{"m":"rt","b":"log-regression","c":"GraalVM","v":1.024},{"m":"rt","b":"log-regression","c":"ML","v":1.014},
{"m":"rt","b":"mnemonics","c":"ML","v":0.927},
{"m":"rt","b":"naive-bayes","c":"GraalVM","v":1.116},{"m":"rt","b":"naive-bayes","c":"GraalVM","v":0.882},
{"m":"rt","b":"page-rank","c":"ML","v":1.035},
{"m":"rt","b":"philosophers","c":"GraalVM","v":1.175},
{"m":"rt","b":"reactors","c":"ML","v":1.035},{"m":"rt","b":"reactors","c":"ML","v":0.553},
{"m":"rt","b":"scala-kmeans","c":"GraalVM","v":0.988},{"m":"rt","b":"scala-kmeans","c":"GraalVM_Fixed","v":0.997},
{"m":"rt","b":"scala-stm-bench7","c":"ML","v":0.995},{"m":"rt","b":"scala-stm-bench7","c":"ML","v":0.948},
{"m":"rt","b":"scrabble","c":"GraalVM","v":0.917}
 ]
},
"resolve": {"scale": {"y": "independent"}},
"vconcat": [
 {
  "width": 974, "height": 154,
  "title": {"text": "compile time", "orient": "right", "anchor": "middle", "fontSize": 21, "fontWeight": "normal", "color": "#1a1a1a", "offset": 8},
  "layer": [
   {"data": {"name": "minor"}, "transform": [{"filter": "datum.m == 'ct'"}], "mark": {"type": "rule", "color": "#ececec", "strokeWidth": 0.6},
    "encoding": {"y": {"field": "g", "type": "quantitative", "title": null, "scale": {"domain": [0.483, 2.52], "nice": false, "zero": false},
      "axis": {"title": null, "labelOverlap": false, "values": [0.5,1,1.5,2,2.5], "format": ".0%"}}}},
   {"data": {"name": "bench"}, "mark": {"type": "rule", "color": "#333333", "strokeWidth": 1.5},
    "encoding": {"x": {"field": "b", "type": "nominal", "bandPosition": 0, "title": null, "axis": null}}},
   {"data": {"name": "box"}, "transform": [{"filter": "datum.m == 'ct'"}], "mark": {"type": "rule", "color": "#555555", "strokeWidth": 1},
    "encoding": {"x": {"field": "b", "type": "nominal", "title": null, "axis": null}, "xOffset": {"field": "c", "type": "nominal"},
     "y": {"field": "lo", "type": "quantitative", "title": null, "axis": {"title": null, "labelOverlap": false, "values": [0.5,1,1.5,2,2.5], "format": ".0%"}}, "y2": {"field": "hi"}}},
   {"data": {"name": "box"}, "transform": [{"filter": "datum.m == 'ct'"}], "mark": {"type": "bar", "stroke": "#333333", "strokeWidth": 1},
    "encoding": {"x": {"field": "b", "type": "nominal", "title": null, "axis": null}, "xOffset": {"field": "c", "type": "nominal"},
     "y": {"field": "q1", "type": "quantitative", "title": null, "axis": {"title": null, "labelOverlap": false, "values": [0.5,1,1.5,2,2.5], "format": ".0%"}}, "y2": {"field": "q3"},
     "fill": {"field": "c", "type": "nominal", "title": null, "scale": {"domain": ["GraalVM", "GraalVM_Fixed", "ML"], "range": ["#1B9E77", "#D95F02", "#7570B3"]}}}},
   {"data": {"name": "box"}, "transform": [{"filter": "datum.m == 'ct'"}], "mark": {"type": "bar", "fillOpacity": 0, "stroke": "#333333", "strokeWidth": 2},
    "encoding": {"x": {"field": "b", "type": "nominal", "title": null, "axis": null}, "xOffset": {"field": "c", "type": "nominal"},
     "y": {"field": "md", "type": "quantitative", "title": null, "axis": {"title": null, "labelOverlap": false, "values": [0.5,1,1.5,2,2.5], "format": ".0%"}}, "y2": {"field": "md"}}},
   {"data": {"name": "out"}, "transform": [{"filter": "datum.m == 'ct'"}], "mark": {"type": "point", "filled": true, "color": "#000000", "size": 15, "opacity": 1},
    "encoding": {"x": {"field": "b", "type": "nominal", "title": null, "axis": null}, "xOffset": {"field": "c", "type": "nominal"},
     "y": {"field": "v", "type": "quantitative", "title": null, "axis": {"title": null, "labelOverlap": false, "values": [0.5,1,1.5,2,2.5], "format": ".0%"}}}},
   {"data": {"values": [{"ref": 1}]}, "mark": {"type": "rule", "color": "#000000", "strokeWidth": 1},
    "encoding": {"y": {"field": "ref", "type": "quantitative", "title": null, "axis": {"title": null, "labelOverlap": false, "values": [0.5,1,1.5,2,2.5], "format": ".0%"}}}}
  ]
 },
 {
  "width": 974, "height": 156,
  "title": {"text": "code size", "orient": "right", "anchor": "middle", "fontSize": 21, "fontWeight": "normal", "color": "#1a1a1a", "offset": 8},
  "layer": [
   {"data": {"name": "minor"}, "transform": [{"filter": "datum.m == 'cs'"}], "mark": {"type": "rule", "color": "#ececec", "strokeWidth": 0.6},
    "encoding": {"y": {"field": "g", "type": "quantitative", "title": null, "scale": {"domain": [0.505, 2.84], "nice": false, "zero": false},
      "axis": {"title": null, "labelOverlap": false, "values": [1,1.5,2,2.5], "format": ".0%"}}}},
   {"data": {"name": "bench"}, "mark": {"type": "rule", "color": "#333333", "strokeWidth": 1.5},
    "encoding": {"x": {"field": "b", "type": "nominal", "bandPosition": 0, "title": null, "axis": null}}},
   {"data": {"name": "box"}, "transform": [{"filter": "datum.m == 'cs'"}], "mark": {"type": "rule", "color": "#555555", "strokeWidth": 1},
    "encoding": {"x": {"field": "b", "type": "nominal", "title": null, "axis": null}, "xOffset": {"field": "c", "type": "nominal"},
     "y": {"field": "lo", "type": "quantitative", "title": null}, "y2": {"field": "hi"}}},
   {"data": {"name": "box"}, "transform": [{"filter": "datum.m == 'cs'"}], "mark": {"type": "bar", "stroke": "#333333", "strokeWidth": 1},
    "encoding": {"x": {"field": "b", "type": "nominal", "title": null, "axis": null}, "xOffset": {"field": "c", "type": "nominal"},
     "y": {"field": "q1", "type": "quantitative", "title": null}, "y2": {"field": "q3"},
     "fill": {"field": "c", "type": "nominal", "title": null, "scale": {"domain": ["GraalVM", "GraalVM_Fixed", "ML"], "range": ["#1B9E77", "#D95F02", "#7570B3"]}}}},
   {"data": {"name": "box"}, "transform": [{"filter": "datum.m == 'cs'"}], "mark": {"type": "bar", "fillOpacity": 0, "stroke": "#333333", "strokeWidth": 2},
    "encoding": {"x": {"field": "b", "type": "nominal", "title": null, "axis": null}, "xOffset": {"field": "c", "type": "nominal"},
     "y": {"field": "md", "type": "quantitative", "title": null}, "y2": {"field": "md"}}},
   {"data": {"name": "out"}, "transform": [{"filter": "datum.m == 'cs'"}], "mark": {"type": "point", "filled": true, "color": "#000000", "size": 15, "opacity": 1},
    "encoding": {"x": {"field": "b", "type": "nominal", "title": null, "axis": null}, "xOffset": {"field": "c", "type": "nominal"},
     "y": {"field": "v", "type": "quantitative", "title": null}}},
   {"data": {"values": [{"ref": 1}]}, "mark": {"type": "rule", "color": "#000000", "strokeWidth": 1},
    "encoding": {"y": {"field": "ref", "type": "quantitative", "title": null}}}
  ]
 },
 {
  "width": 974, "height": 156,
  "title": {"text": "run time", "orient": "right", "anchor": "middle", "fontSize": 21, "fontWeight": "normal", "color": "#1a1a1a", "offset": 8},
  "layer": [
   {"data": {"name": "minor"}, "transform": [{"filter": "datum.m == 'rt'"}], "mark": {"type": "rule", "color": "#ececec", "strokeWidth": 0.6},
    "encoding": {"y": {"field": "g", "type": "quantitative", "title": null, "scale": {"domain": [0.501, 1.614], "nice": false, "zero": false},
      "axis": {"title": null, "labelOverlap": false, "values": [0.75,1,1.25,1.5], "format": ".0%"}}}},
   {"data": {"name": "bench"}, "mark": {"type": "rule", "color": "#333333", "strokeWidth": 1.5},
    "encoding": {"x": {"field": "b", "type": "nominal", "bandPosition": 0, "title": null,
     "axis": {"title": null, "labelAngle": -66, "labelAlign": "right", "labelBaseline": "top", "labelFontSize": 20, "labelColor": "#4d4d4d", "tickSize": 5, "tickColor": "#333333", "domain": false, "grid": false, "labelPadding": 2}}}},
   {"data": {"name": "box"}, "transform": [{"filter": "datum.m == 'rt'"}], "mark": {"type": "rule", "color": "#555555", "strokeWidth": 1},
    "encoding": {"x": {"field": "b", "type": "nominal", "title": null}, "xOffset": {"field": "c", "type": "nominal"},
     "y": {"field": "lo", "type": "quantitative", "title": null}, "y2": {"field": "hi"}}},
   {"data": {"name": "box"}, "transform": [{"filter": "datum.m == 'rt'"}], "mark": {"type": "bar", "stroke": "#333333", "strokeWidth": 1},
    "encoding": {"x": {"field": "b", "type": "nominal", "title": null}, "xOffset": {"field": "c", "type": "nominal"},
     "y": {"field": "q1", "type": "quantitative", "title": null}, "y2": {"field": "q3"},
     "fill": {"field": "c", "type": "nominal", "title": null, "scale": {"domain": ["GraalVM", "GraalVM_Fixed", "ML"], "range": ["#1B9E77", "#D95F02", "#7570B3"]}}}},
   {"data": {"name": "box"}, "transform": [{"filter": "datum.m == 'rt'"}], "mark": {"type": "bar", "fillOpacity": 0, "stroke": "#333333", "strokeWidth": 2},
    "encoding": {"x": {"field": "b", "type": "nominal", "title": null}, "xOffset": {"field": "c", "type": "nominal"},
     "y": {"field": "md", "type": "quantitative", "title": null}, "y2": {"field": "md"}}},
   {"data": {"name": "out"}, "transform": [{"filter": "datum.m == 'rt'"}], "mark": {"type": "point", "filled": true, "color": "#000000", "size": 15, "opacity": 1},
    "encoding": {"x": {"field": "b", "type": "nominal", "title": null}, "xOffset": {"field": "c", "type": "nominal"},
     "y": {"field": "v", "type": "quantitative", "title": null}}},
   {"data": {"values": [{"ref": 1}]}, "mark": {"type": "rule", "color": "#000000", "strokeWidth": 1},
    "encoding": {"y": {"field": "ref", "type": "quantitative", "title": null}}}
  ]
 }
]
}
